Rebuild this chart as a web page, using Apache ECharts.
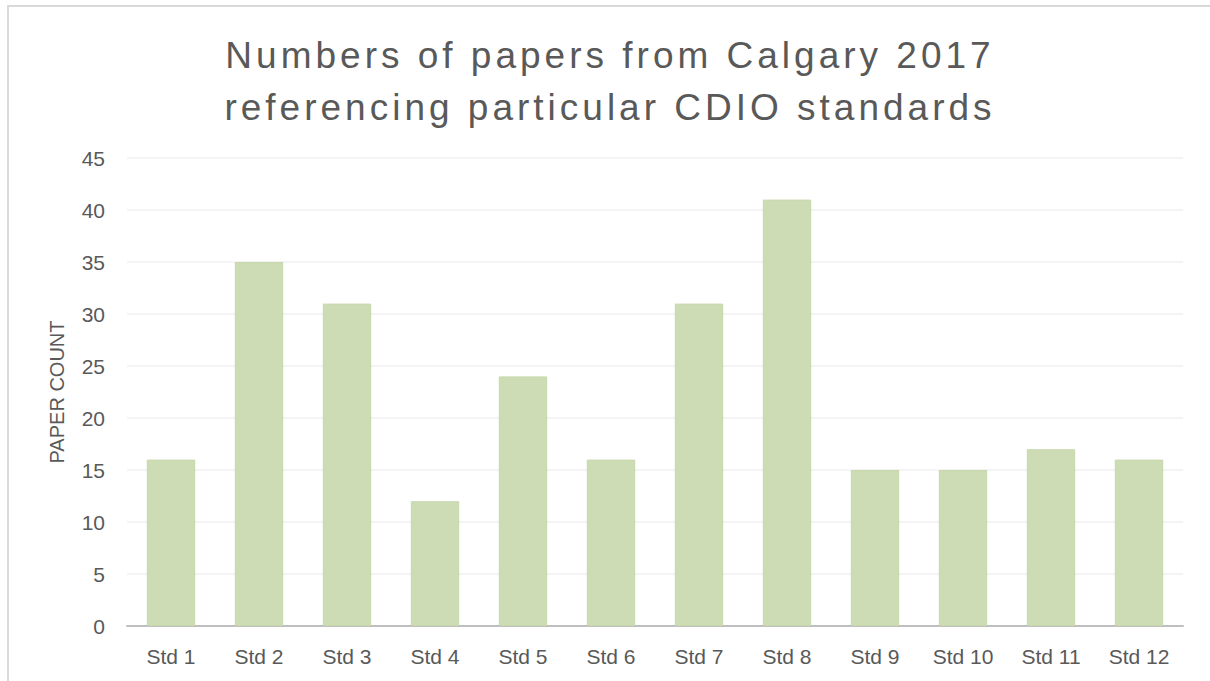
<!DOCTYPE html>
<html><head><meta charset="utf-8">
<script src="https://cdn.jsdelivr.net/npm/echarts@6/dist/echarts.min.js"></script>
<style>html,body{margin:0;padding:0;background:#fff}#c{width:1210px;height:681px}</style>
</head><body><div id="c"></div>
<script>
const categories = ['Std 1','Std 2','Std 3','Std 4','Std 5','Std 6','Std 7','Std 8','Std 9','Std 10','Std 11','Std 12'];
const paperCounts = [16,35,31,12,24,16,31,41,15,15,17,16];
const titleLines = ['Numbers of papers from Calgary 2017','referencing particular CDIO standards'];
const yAxisName = 'PAPER COUNT';

const FONT = 'Liberation Sans, Arial, sans-serif';
const chart = echarts.init(document.getElementById('c'), null, {renderer:'svg'});
chart.setOption({
  backgroundColor:'#fff',
  animation:false,
  graphic:[
    {type:'rect',shape:{x:8,y:6,width:1400,height:900},style:{fill:'none',stroke:'#d9d9d9',lineWidth:2},silent:true,z:-1},
    {type:'text',x:610,y:37,style:{text:titleLines[0],textAlign:'center',textVerticalAlign:'top',font:'37px '+FONT,fill:'#595959'},silent:true},
    {type:'text',x:610,y:89,style:{text:titleLines[1],textAlign:'center',textVerticalAlign:'top',font:'37px '+FONT,fill:'#595959'},silent:true}
  ],
  grid:{left:127,right:27,top:158,bottom:55},
  xAxis:{type:'category',data:categories,
    axisLine:{lineStyle:{color:'#bfbfbf',width:2}},axisTick:{show:false},
    axisLabel:{fontFamily:FONT,fontSize:21,color:'#595959',margin:20}},
  yAxis:{type:'value',min:0,max:45,interval:5,name:yAxisName,nameLocation:'middle',nameGap:60,
    nameTextStyle:{fontFamily:FONT,fontSize:20,color:'#595959'},
    axisLine:{show:false},axisTick:{show:false},
    splitLine:{lineStyle:{color:'#f0f0f0',width:1.5}},
    axisLabel:{fontFamily:FONT,fontSize:21,color:'#595959',margin:22}},
  series:[{type:'bar',data:paperCounts,barCategoryGap:'45%',
    itemStyle:{color:'#cddcb5',borderColor:'#c6d8ab',borderWidth:1}}]
});
document.querySelectorAll('#c svg text').forEach(function(t){
  if (titleLines.indexOf(t.textContent) >= 0) { t.style.letterSpacing = '4px'; }
});
</script></body></html>
